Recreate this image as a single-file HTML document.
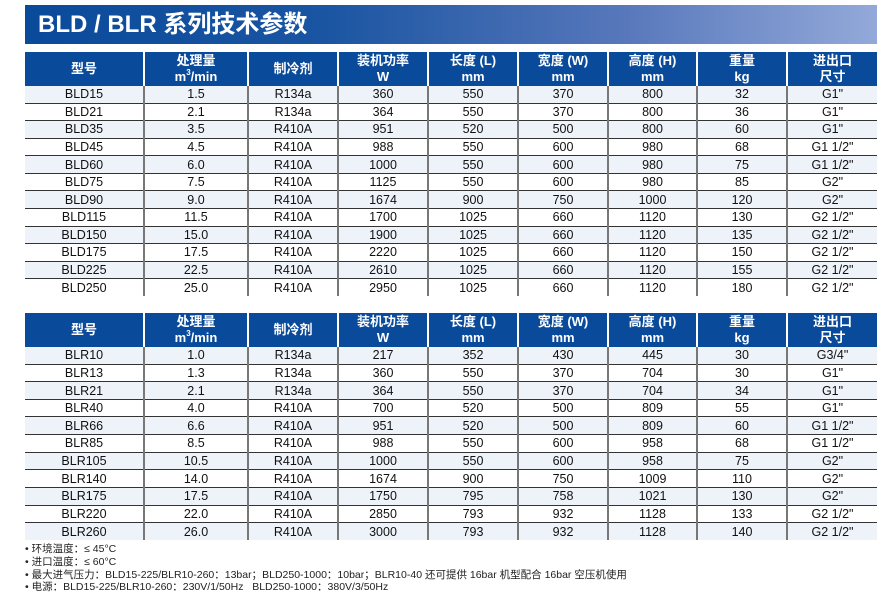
<!DOCTYPE html>
<html><head><meta charset="utf-8"><style>
*{margin:0;padding:0;box-sizing:border-box}
body{width:896px;height:599px;background:#fff;font-family:"Liberation Sans","Noto Sans CJK SC",sans-serif;position:relative;overflow:hidden;color:#111}
.title{position:absolute;left:25px;top:5px;width:852px;height:39px;background:linear-gradient(90deg,#0a4a9b 0%,#1a55a2 35%,#5777bb 70%,#93a9d9 100%);color:#fff;font-weight:bold;font-size:24px;line-height:39px;padding-left:13px}
table{position:absolute;left:25px;width:852px;border-collapse:collapse;table-layout:fixed;font-size:12.5px}
th{background:#0a4a9b;color:#fff;font-weight:bold;font-size:13px;line-height:16px;border-left:2px solid #fff;height:34px;padding:0}
th:first-child{border-left:none}
td{text-align:center;border-left:2px solid #777;padding:0;line-height:16px;border-top:1px solid #333}
td:first-child{border-left:none}
tr.l td{background:#eef3f9}
tbody tr:first-child td{border-top:none}
sup{font-size:8px;vertical-align:top;line-height:8px}
.notes{position:absolute;left:25px;top:543px;font-size:10.5px;line-height:12.8px;color:#222}
</style></head><body>
<div class="title">BLD / BLR 系列技术参数</div>
<table style="top:52px">
<colgroup><col style="width:119px"><col style="width:104px"><col style="width:90px"><col style="width:90px"><col style="width:90px"><col style="width:90px"><col style="width:89px"><col style="width:90px"><col style="width:90px"></colgroup>
<thead><tr><th>型号</th><th>处理量<br>m<sup>3</sup>/min</th><th>制冷剂</th><th>装机功率<br>W</th><th>长度 (L)<br>mm</th><th>宽度 (W)<br>mm</th><th>高度 (H)<br>mm</th><th>重量<br>kg</th><th>进出口<br>尺寸</th></tr></thead>
<tbody style="height:210px">
<tr class="l"><td>BLD15</td><td>1.5</td><td>R134a</td><td>360</td><td>550</td><td>370</td><td>800</td><td>32</td><td>G1"</td></tr>
<tr><td>BLD21</td><td>2.1</td><td>R134a</td><td>364</td><td>550</td><td>370</td><td>800</td><td>36</td><td>G1"</td></tr>
<tr class="l"><td>BLD35</td><td>3.5</td><td>R410A</td><td>951</td><td>520</td><td>500</td><td>800</td><td>60</td><td>G1"</td></tr>
<tr><td>BLD45</td><td>4.5</td><td>R410A</td><td>988</td><td>550</td><td>600</td><td>980</td><td>68</td><td>G1 1/2"</td></tr>
<tr class="l"><td>BLD60</td><td>6.0</td><td>R410A</td><td>1000</td><td>550</td><td>600</td><td>980</td><td>75</td><td>G1 1/2"</td></tr>
<tr><td>BLD75</td><td>7.5</td><td>R410A</td><td>1125</td><td>550</td><td>600</td><td>980</td><td>85</td><td>G2"</td></tr>
<tr class="l"><td>BLD90</td><td>9.0</td><td>R410A</td><td>1674</td><td>900</td><td>750</td><td>1000</td><td>120</td><td>G2"</td></tr>
<tr><td>BLD115</td><td>11.5</td><td>R410A</td><td>1700</td><td>1025</td><td>660</td><td>1120</td><td>130</td><td>G2 1/2"</td></tr>
<tr class="l"><td>BLD150</td><td>15.0</td><td>R410A</td><td>1900</td><td>1025</td><td>660</td><td>1120</td><td>135</td><td>G2 1/2"</td></tr>
<tr><td>BLD175</td><td>17.5</td><td>R410A</td><td>2220</td><td>1025</td><td>660</td><td>1120</td><td>150</td><td>G2 1/2"</td></tr>
<tr class="l"><td>BLD225</td><td>22.5</td><td>R410A</td><td>2610</td><td>1025</td><td>660</td><td>1120</td><td>155</td><td>G2 1/2"</td></tr>
<tr><td>BLD250</td><td>25.0</td><td>R410A</td><td>2950</td><td>1025</td><td>660</td><td>1120</td><td>180</td><td>G2 1/2"</td></tr>
</tbody></table>
<table style="top:313px">
<colgroup><col style="width:119px"><col style="width:104px"><col style="width:90px"><col style="width:90px"><col style="width:90px"><col style="width:90px"><col style="width:89px"><col style="width:90px"><col style="width:90px"></colgroup>
<thead><tr><th>型号</th><th>处理量<br>m<sup>3</sup>/min</th><th>制冷剂</th><th>装机功率<br>W</th><th>长度 (L)<br>mm</th><th>宽度 (W)<br>mm</th><th>高度 (H)<br>mm</th><th>重量<br>kg</th><th>进出口<br>尺寸</th></tr></thead>
<tbody style="height:193px">
<tr class="l"><td>BLR10</td><td>1.0</td><td>R134a</td><td>217</td><td>352</td><td>430</td><td>445</td><td>30</td><td>G3/4"</td></tr>
<tr><td>BLR13</td><td>1.3</td><td>R134a</td><td>360</td><td>550</td><td>370</td><td>704</td><td>30</td><td>G1"</td></tr>
<tr class="l"><td>BLR21</td><td>2.1</td><td>R134a</td><td>364</td><td>550</td><td>370</td><td>704</td><td>34</td><td>G1"</td></tr>
<tr><td>BLR40</td><td>4.0</td><td>R410A</td><td>700</td><td>520</td><td>500</td><td>809</td><td>55</td><td>G1"</td></tr>
<tr class="l"><td>BLR66</td><td>6.6</td><td>R410A</td><td>951</td><td>520</td><td>500</td><td>809</td><td>60</td><td>G1 1/2"</td></tr>
<tr><td>BLR85</td><td>8.5</td><td>R410A</td><td>988</td><td>550</td><td>600</td><td>958</td><td>68</td><td>G1 1/2"</td></tr>
<tr class="l"><td>BLR105</td><td>10.5</td><td>R410A</td><td>1000</td><td>550</td><td>600</td><td>958</td><td>75</td><td>G2"</td></tr>
<tr><td>BLR140</td><td>14.0</td><td>R410A</td><td>1674</td><td>900</td><td>750</td><td>1009</td><td>110</td><td>G2"</td></tr>
<tr class="l"><td>BLR175</td><td>17.5</td><td>R410A</td><td>1750</td><td>795</td><td>758</td><td>1021</td><td>130</td><td>G2"</td></tr>
<tr><td>BLR220</td><td>22.0</td><td>R410A</td><td>2850</td><td>793</td><td>932</td><td>1128</td><td>133</td><td>G2 1/2"</td></tr>
<tr class="l"><td>BLR260</td><td>26.0</td><td>R410A</td><td>3000</td><td>793</td><td>932</td><td>1128</td><td>140</td><td>G2 1/2"</td></tr>
</tbody></table>
<div class="notes">• 环境温度：≤ 45°C<br>• 进口温度：≤ 60°C<br>• 最大进气压力：BLD15-225/BLR10-260：13bar；BLD250-1000：10bar；BLR10-40 还可提供 16bar 机型配合 16bar 空压机使用<br>• 电源：BLD15-225/BLR10-260：230V/1/50Hz&nbsp;&nbsp; BLD250-1000：380V/3/50Hz</div>
</body></html>
